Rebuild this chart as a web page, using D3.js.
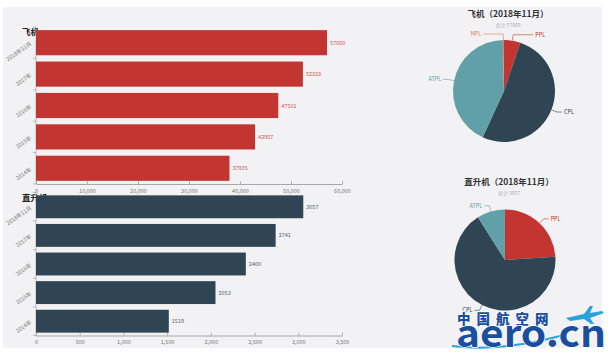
<!DOCTYPE html>
<html><head><meta charset="utf-8">
<script src="https://cdn.jsdelivr.net/npm/d3@7"></script>
<style>body{margin:0;background:#fff}svg{display:block}text{font-family:"Noto Sans CJK SC","Noto Sans",sans-serif}</style>
</head><body>
<svg id="c" width="612" height="357"></svg>
<script>
const years = ["2018年11月","2017年","2016年","2015年","2014年"];
const planeTotals = [57060,52333,47501,42957,37935];
const heliTotals = [3057,2741,2400,2053,1519];
const planeTicks = [0,10000,20000,30000,40000,50000,60000];
const heliTicks = [0,500,1000,1500,2000,2500,3000,3500];
const planeTypes = ["PPL","CPL","ATPL","MPL"];
const planeBreakdown = [2950,29500,24400,210];
const heliTypes = ["PPL","CPL","ATPL"];
const heliBreakdown = [733,2049,275];
const typeColors = {PPL:"#c23531",CPL:"#2f4554",ATPL:"#61a0a8",MPL:"#d48265"};

const svg = d3.select("#c");
svg.append("rect").attr("x",3).attr("y",7).attr("width",599).attr("height",341).attr("fill","#f2f2f4");

function barChart(values, ticks, maxV, y0, y1, color, title){
  const g = svg.append("g");
  const x = d3.scaleLinear().domain([0,maxV]).range([36,342]);
  const y = d3.scaleBand().domain(years).range([y0,y1]).paddingInner(0.2).paddingOuter(0.1);
  g.append("text").attr("x",22).attr("y",y0+8).attr("font-size",8.5).attr("font-weight","bold").attr("fill","#222").text(title);
  // left axis
  g.append("line").attr("x1",36).attr("x2",36).attr("y1",y0).attr("y2",y1).attr("stroke","#999").attr("stroke-width",0.6);
  years.forEach((d,i)=>{
    const yb = y0 + y.step()*i + (i===0?0:0);
  });
  const bounds = d3.range(years.length+1).map(i=> y0 + i*y.step());
  g.selectAll(".yt").data(bounds).join("line").attr("x1",33).attr("x2",36)
    .attr("y1",d=>d).attr("y2",d=>d).attr("stroke","#999").attr("stroke-width",0.6);
  g.selectAll(".yl").data(years).join("text")
    .attr("transform",d=>`translate(32,${y(d)+y.bandwidth()/2+2}) rotate(-35)`)
    .attr("text-anchor","end").attr("font-size",5.5).attr("fill","#777").text(d=>d);
  // bars
  g.selectAll(".b").data(values).join("rect")
    .attr("x",x(0)).attr("y",(d,i)=>y(years[i])).attr("width",d=>x(d)-x(0)).attr("height",y.bandwidth())
    .attr("fill",color);
  g.selectAll(".v").data(values).join("text")
    .attr("x",d=>x(d)+3).attr("y",(d,i)=>y(years[i])+y.bandwidth()/2+2)
    .attr("font-size",5.5).attr("fill",color).attr("opacity",0.85).text(d=>d);
  // bottom axis
  const ax = g.append("g").attr("transform",`translate(0,${y1})`)
    .call(d3.axisBottom(x).tickValues(ticks).tickFormat(d3.format(",")).tickSizeInner(-3).tickSizeOuter(0).tickPadding(5));
  ax.select(".domain").attr("stroke","#888").attr("stroke-width",0.7);
  ax.selectAll(".tick line").attr("stroke","#888").attr("stroke-width",0.6);
  ax.selectAll(".tick text").attr("font-size",5.5).attr("fill","#777").attr("font-family","'Noto Sans',sans-serif");
}

barChart(planeTotals, planeTicks, 60000, 27, 184, "#c23531", "飞机");
barChart(heliTotals, heliTicks, 3500, 192.5, 335.5, "#2f4554", "直升机");

function pieChart(types, vals, cx, cy, r, title, titleY){
  const g = svg.append("g");
  const total = d3.sum(vals);
  g.append("text").attr("x",cx+4).attr("y",titleY).attr("text-anchor","middle")
    .attr("font-size",8.5).attr("font-weight","bold").attr("fill","#333").text(title);
  g.append("text").attr("x",cx+4).attr("y",titleY+10).attr("text-anchor","middle")
    .attr("font-size",5).attr("fill","#aaa").text("总计 "+total);
  const arcs = d3.pie().sort(null)(vals);
  const arc = d3.arc().innerRadius(0).outerRadius(r);
  const pg = g.append("g").attr("transform",`translate(${cx},${cy})`);
  pg.selectAll("path").data(arcs).join("path").attr("d",arc).attr("fill",(d,i)=>typeColors[types[i]]);
  arcs.forEach((d,i)=>{
    const a = (d.startAngle+d.endAngle)/2;
    const s = Math.sin(a), c = Math.cos(a);
    const dir = s>=0?1:-1;
    const len2 = Math.abs(s)<0.2?20:5;
    const p1=[r*s,-r*c], p2=[(r+6)*s,-(r+6)*c], p3=[p2[0]+dir*len2,p2[1]];
    const col = typeColors[types[i]];
    pg.append("polyline").attr("points",[p1,p2,p3].map(p=>p.join(",")).join(" "))
      .attr("fill","none").attr("stroke",col).attr("stroke-width",0.6);
    pg.append("text").attr("x",p3[0]+dir*2).attr("y",p3[1]+2).attr("text-anchor",dir>0?"start":"end")
      .attr("font-size",5.5).attr("fill",col).text(types[i]);
  });
}

pieChart(planeTypes, planeBreakdown, 504, 91, 51, "飞机（2018年11月）", 17);
pieChart(heliTypes, heliBreakdown, 505, 260, 50.5, "直升机（2018年11月）", 185);

// logo
const logo = svg.append("g");
logo.append("path").attr("d","M452,346 Q500,352 560,336").attr("fill","none").attr("stroke","#2aa2dc").attr("stroke-width",2);
logo.append("text").attr("x",457).attr("y",323.5).attr("font-size",13.5).attr("font-weight",900)
  .attr("letter-spacing",6).attr("fill","#1a4f9f").attr("stroke","#fff").attr("stroke-width",1.5)
  .attr("paint-order","stroke").attr("font-family","'Noto Sans CJK SC'").text("中国航空网");
logo.append("text").attr("x",456).attr("y",347).attr("font-size",38).attr("font-weight","bold")
  .attr("textLength",150).attr("lengthAdjust","spacingAndGlyphs")
  .attr("fill","#1a4f9f").attr("stroke","#fff").attr("stroke-width",1.5).attr("paint-order","stroke")
  .attr("font-family","'DejaVu Sans'").text("aero.cn");
logo.append("path").attr("d","M566,318 L584,314 L590,306 L593,306 L590,313 L602,311 L604,313 L590,318 L594,324 L591,324 L584,319 L570,321 Z")
  .attr("fill","#2aa2dc");
</script>
</body></html>
